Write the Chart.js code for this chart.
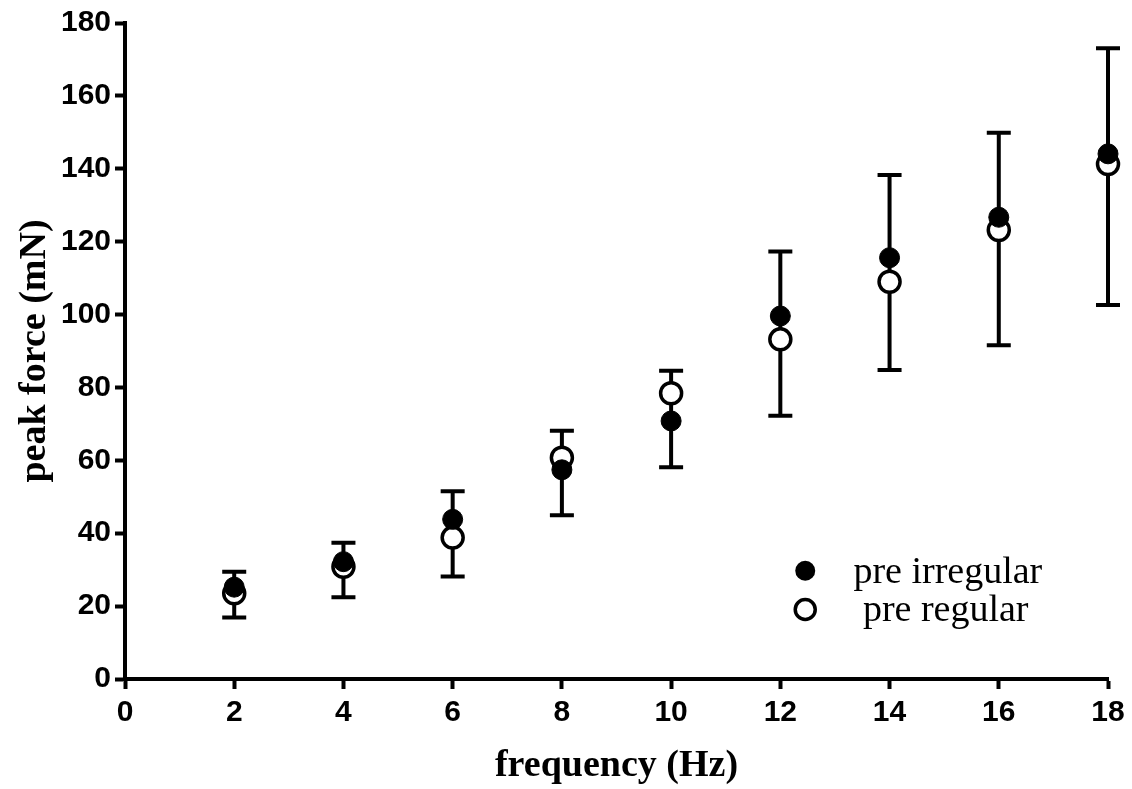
<!DOCTYPE html>
<html>
<head>
<meta charset="utf-8">
<script src="https://cdn.jsdelivr.net/npm/chart.js@4"></script>
<style>
    body { margin: 0; background: #fff; }
    #wrap { width: 1132px; height: 789px; }
</style>
</head>
<body>
<div id="wrap"><canvas id="chart"></canvas></div>
<script>
// values
const frequency = [2, 4, 6, 8, 10, 12, 14, 16, 18];
const preIrregular = [25.2, 32.2, 43.8, 57.4, 70.8, 99.6, 115.6, 126.7, 144.1];
const preRegular = [23.5, 30.8, 38.8, 60.7, 78.4, 93.2, 109.0, 123.2, 141.3];
const errUpper = [29.4, 37.4, 51.5, 68.1, 84.6, 117.3, 138.3, 149.9, 173.1];
const errLower = [16.9, 22.4, 28.1, 44.9, 58.1, 72.2, 84.8, 91.6, 102.6];
const seriesLabels = ['pre irregular', ' pre regular'];

const tickFont = { family: '"Liberation Sans", Arial, sans-serif', size: 30, weight: 'bold' };
const titleFont = { family: '"Liberation Serif", "Times New Roman", serif', size: 38, weight: 'bold' };

const errorBars = {
    id: 'errorBars',
    beforeDatasetsDraw(chart) {
        const { ctx, scales: { x, y } } = chart;
        ctx.save();
        ctx.strokeStyle = '#000';
        ctx.lineWidth = 4;
        frequency.forEach((f, i) => {
            const px = x.getPixelForValue(f);
            const top = y.getPixelForValue(errUpper[i]);
            const bot = y.getPixelForValue(errLower[i]);
            ctx.beginPath();
            ctx.moveTo(px, top);
            ctx.lineTo(px, bot);
            ctx.moveTo(px - 12, top);
            ctx.lineTo(px + 12, top);
            ctx.moveTo(px - 12, bot);
            ctx.lineTo(px + 12, bot);
            ctx.stroke();
        });
        ctx.restore();
    }
};

// legend sits inside the plot, lower right
const innerLegend = {
    id: 'innerLegend',
    afterDraw(chart) {
        const { ctx, chartArea: a } = chart;
        const mx = a.left + 0.692 * (a.right - a.left);
        const tx = a.left + 0.741 * (a.right - a.left);
        const rows = [0.835, 0.894];
        ctx.save();
        ctx.font = '38px "Liberation Serif", "Times New Roman", serif';
        ctx.textBaseline = 'middle';
        ctx.fillStyle = '#000';
        rows.forEach((r, i) => {
            const yy = a.top + r * (a.bottom - a.top);
            ctx.beginPath();
            ctx.arc(mx, yy, 10, 0, Math.PI * 2);
            if (i === 0) {
                ctx.fill();
            } else {
                ctx.fillStyle = '#fff';
                ctx.fill();
                ctx.lineWidth = 3.5;
                ctx.strokeStyle = '#000';
                ctx.stroke();
                ctx.fillStyle = '#000';
            }
            ctx.fillText(seriesLabels[i], tx, yy + 2);
        });
        ctx.restore();
    }
};

new Chart(document.querySelector('#chart'), {
    type: 'scatter',
    data: {
        datasets: [
            {
                label: seriesLabels[0],
                data: frequency.map((f, i) => ({ x: f, y: preIrregular[i] })),
                pointRadius: 10,
                pointBackgroundColor: '#000',
                pointBorderColor: '#000',
                pointBorderWidth: 1,
                clip: false
            },
            {
                label: seriesLabels[1],
                data: frequency.map((f, i) => ({ x: f, y: preRegular[i] })),
                pointRadius: 10.5,
                pointBackgroundColor: '#fff',
                pointBorderColor: '#000',
                pointBorderWidth: 3.5,
                clip: false
            }
        ]
    },
    options: {
        responsive: true,
        maintainAspectRatio: false,
        animation: false,
        layout: { padding: { left: 0, top: 23, right: 24, bottom: 0 } },
        plugins: {
            legend: { display: false },
            tooltip: { enabled: false }
        },
        scales: {
            x: {
                type: 'linear',
                min: 0,
                max: 18,
                ticks: { stepSize: 2, color: '#000', font: tickFont, padding: 6, maxRotation: 0 },
                grid: { drawOnChartArea: false, drawTicks: true, tickLength: 10, tickWidth: 4, tickColor: '#000' },
                border: { display: true, color: '#000', width: 4 },
                title: { display: true, text: 'frequency (Hz)', color: '#000', font: titleFont, padding: { top: 0, bottom: 0 } },
                afterFit(scale) { scale.height = 110; }
            },
            y: {
                min: 0,
                max: 180,
                ticks: { stepSize: 20, color: '#000', font: tickFont, padding: 4 },
                grid: { drawOnChartArea: false, drawTicks: true, tickLength: 10, tickWidth: 4, tickColor: '#000' },
                border: { display: true, color: '#000', width: 4 },
                title: { display: true, text: 'peak force (mN)', color: '#000', font: titleFont, padding: { top: 12, bottom: 0 } },
                afterFit(scale) { scale.width = 125; }
            }
        }
    },
    plugins: [errorBars, innerLegend]
});
</script>
</body>
</html>
